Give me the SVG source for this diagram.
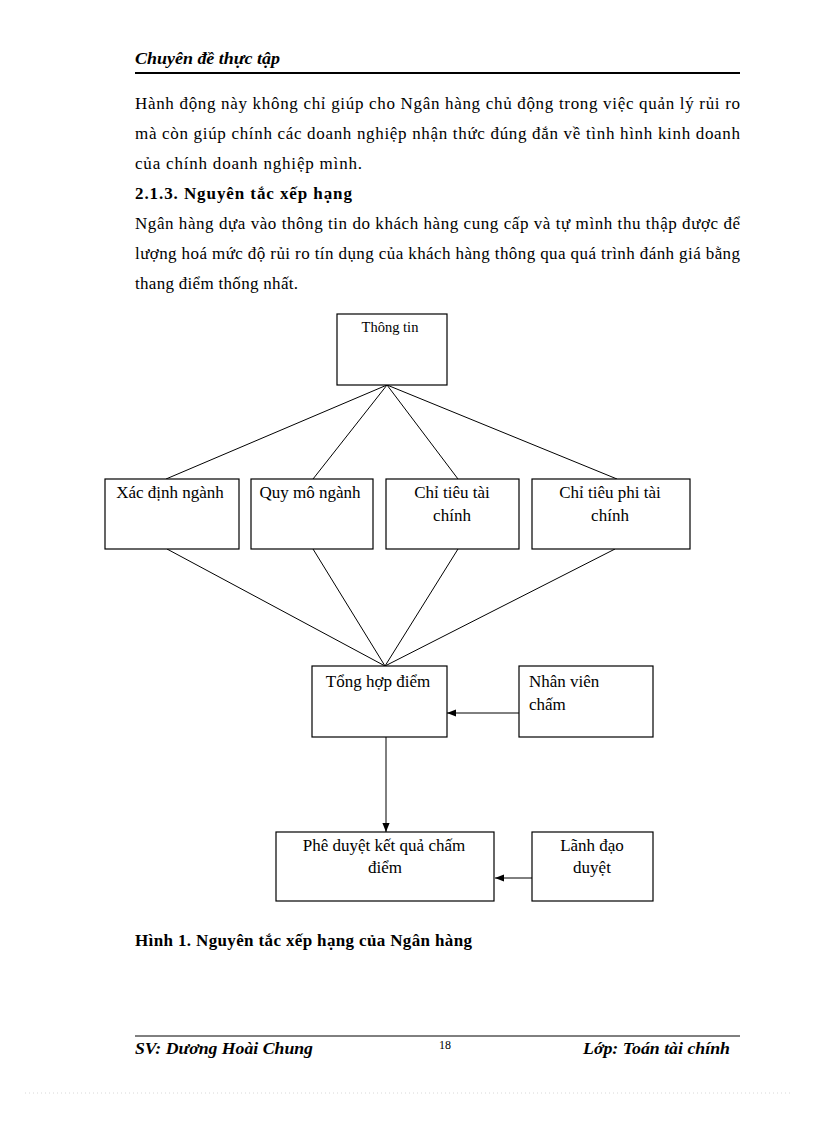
<svg xmlns="http://www.w3.org/2000/svg" width="816" height="1123" viewBox="0 0 816 1123">
<defs>
<marker id="ah" viewBox="0 0 10 10" refX="10" refY="5" markerWidth="9" markerHeight="9" markerUnits="userSpaceOnUse" orient="auto">
<path d="M0,1 L10,5 L0,9 Z" fill="#000"/>
</marker>
</defs>
<style>
text{font-family:"Liberation Serif","Times New Roman",serif;fill:#000}
.p{font-size:17px}
.b{font-weight:bold}
.bi{font-weight:bold;font-style:italic;font-size:17px}
.box{fill:#fff;stroke:#000;stroke-width:1.2}
.t{font-size:17px;text-anchor:middle}
.tl{font-size:17px}
.ln{stroke:#000;stroke-width:1;fill:none}
</style>
<rect width="816" height="1123" fill="#fff"/>

<g id="header">
<text class="bi" x="135" y="64" textLength="145" lengthAdjust="spacingAndGlyphs">Chuyên  đề thực tập</text>
<line x1="135" y1="73" x2="740" y2="73" stroke="#000" stroke-width="2"/>
</g>

<g id="body">
<text class="p" x="135" y="109" textLength="605" lengthAdjust="spacing">Hành động này không chỉ giúp cho Ngân hàng chủ động trong việc quản lý rủi ro</text>
<text class="p" x="135" y="139" textLength="605" lengthAdjust="spacing">mà còn giúp chính các doanh nghiệp nhận thức đúng đắn về tình hình kinh doanh</text>
<text class="p" x="135" y="169" textLength="227" lengthAdjust="spacing">của chính doanh nghiệp mình.</text>
<text class="p b" x="135" y="199" textLength="217" lengthAdjust="spacing">2.1.3. Nguyên tắc xếp hạng</text>
<text class="p" x="135" y="229" textLength="605" lengthAdjust="spacing">Ngân hàng dựa vào thông tin do khách hàng cung cấp và tự mình thu thập được để</text>
<text class="p" x="135" y="259" textLength="605" lengthAdjust="spacing">lượng hoá mức độ rủi ro tín dụng của khách hàng thông qua quá trình đánh giá bằng</text>
<text class="p" x="135" y="289" textLength="163" lengthAdjust="spacing">thang điểm thống nhất.</text>
</g>

<g id="connectors">
<line class="ln" x1="387" y1="385" x2="166" y2="479"/>
<line class="ln" x1="387" y1="385" x2="313" y2="479"/>
<line class="ln" x1="387" y1="385" x2="458" y2="479"/>
<line class="ln" x1="387" y1="385" x2="617" y2="479"/>
<line class="ln" x1="167" y1="549" x2="385" y2="666"/>
<line class="ln" x1="313" y1="549" x2="385" y2="666"/>
<line class="ln" x1="458" y1="549" x2="385" y2="666"/>
<line class="ln" x1="615" y1="549" x2="385" y2="666"/>
<line class="ln" x1="519" y1="713" x2="447" y2="713" marker-end="url(#ah)"/>
<line class="ln" x1="386" y1="737" x2="386" y2="832" marker-end="url(#ah)"/>
<line class="ln" x1="532" y1="878" x2="495" y2="878" marker-end="url(#ah)"/>
</g>

<g id="n-thongtin">
<rect class="box" x="337" y="314" width="110" height="71"/>
<text x="390" y="332" style="font-size:14.5px;text-anchor:middle">Thông tin</text>
</g>

<g id="n-xacdinh">
<rect class="box" x="105" y="479" width="134" height="70"/>
<text class="t" x="170" y="498">Xác định ngành</text>
</g>

<g id="n-quymo">
<rect class="box" x="251" y="479" width="122" height="70"/>
<text class="t" x="310" y="498">Quy mô ngành</text>
</g>

<g id="n-chitieutai">
<rect class="box" x="386" y="479" width="133" height="70"/>
<text class="t" x="452" y="498">Chỉ  tiêu tài</text>
<text class="t" x="452" y="521">chính</text>
</g>

<g id="n-chitieuphitai">
<rect class="box" x="532" y="479" width="158" height="70"/>
<text class="t" x="610" y="498">Chỉ  tiêu phi tài</text>
<text class="t" x="610" y="521">chính</text>
</g>

<g id="n-tonghop">
<rect class="box" x="312" y="666" width="135" height="71"/>
<text class="t" x="378" y="687">Tổng hợp điểm</text>
</g>

<g id="n-nhanvien">
<rect class="box" x="519" y="666" width="134" height="71"/>
<text class="tl" x="529" y="687">Nhân viên</text>
<text class="tl" x="529" y="710">chấm</text>
</g>

<g id="n-pheduyet">
<rect class="box" x="276" y="832" width="218" height="69"/>
<text class="t" x="384" y="851">Phê duyệt kết quả chấm</text>
<text class="t" x="385" y="873">điểm</text>
</g>

<g id="n-lanhdao">
<rect class="box" x="532" y="832" width="121" height="69"/>
<text class="t" x="592" y="851">Lãnh đạo</text>
<text class="t" x="592" y="873">duyệt</text>
</g>

<g id="caption">
<text class="p b" x="135" y="946" textLength="337" lengthAdjust="spacing">Hình 1. Nguyên tắc xếp hạng của Ngân hàng</text>
</g>

<g id="footer">
<line x1="135" y1="1036" x2="740" y2="1036" stroke="#000" stroke-width="1"/>
<text class="bi" x="135" y="1054" textLength="178" lengthAdjust="spacingAndGlyphs">SV: Dương Hoài Chung</text>
<text x="445" y="1049" style="font-size:12px;text-anchor:middle">18</text>
<text class="bi" x="730" y="1054" text-anchor="end" textLength="147" lengthAdjust="spacingAndGlyphs">Lớp: Toán tài chính</text>
<line x1="25" y1="1093" x2="792" y2="1093" stroke="#d8d8d8" stroke-width="1" stroke-dasharray="1 3"/>
</g>
</svg>
